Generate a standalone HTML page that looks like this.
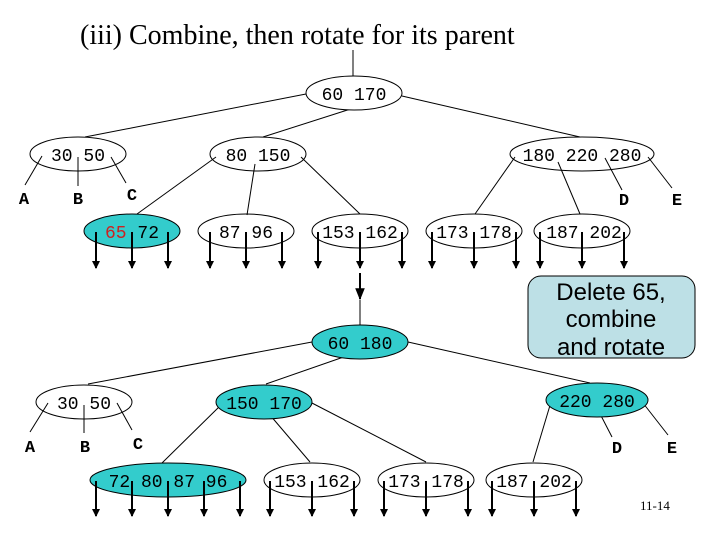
<!DOCTYPE html>
<html><head><meta charset="utf-8"><style>
body{margin:0;background:#fff}
svg{display:block}
.n{font-family:"Liberation Mono",monospace;font-size:18px;fill:#000}
.l{font-family:"Liberation Mono",monospace;font-size:17px;font-weight:bold;fill:#000}
</style></head><body>
<svg width="720" height="540" viewBox="0 0 720 540" xmlns="http://www.w3.org/2000/svg">
<defs><marker id="ah" viewBox="0 0 8 8" refX="7" refY="4" markerWidth="8" markerHeight="8" orient="auto" markerUnits="userSpaceOnUse"><path d="M0,0 L8,4 L0,8 z" fill="#000"/></marker>
<marker id="ad" viewBox="0 0 10 8" refX="9" refY="4" markerWidth="12" markerHeight="10" markerUnits="userSpaceOnUse" orient="auto"><path d="M0,0 L10,4 L0,8 z" fill="#000"/></marker></defs>
<text x="80" y="44" font-family="Liberation Serif,serif" font-size="28">(iii) Combine, then rotate for its parent</text>
<g stroke="#000" stroke-width="1" fill="none">
<line x1="353" y1="50" x2="353" y2="76"/>
<line x1="306" y1="94" x2="85" y2="137"/>
<line x1="360" y1="106" x2="263" y2="137"/>
<line x1="402" y1="96" x2="580" y2="137"/>
<line x1="42" y1="156" x2="25" y2="185"/><line x1="78" y1="157" x2="78" y2="186"/><line x1="111" y1="157" x2="126" y2="183"/>
<line x1="216" y1="157" x2="137" y2="214"/><line x1="255" y1="164" x2="247" y2="215"/><line x1="301" y1="157" x2="360" y2="214"/>
<line x1="515" y1="157" x2="475" y2="214"/><line x1="558" y1="162" x2="580" y2="214"/><line x1="605" y1="158" x2="622" y2="190"/><line x1="648" y1="157" x2="672" y2="188"/>
<line x1="360" y1="300" x2="360" y2="325"/>
<line x1="312" y1="342" x2="88" y2="384"/><line x1="358" y1="352" x2="266" y2="384"/><line x1="408" y1="342" x2="590" y2="383"/>
<line x1="48" y1="403" x2="30" y2="432"/><line x1="84" y1="405" x2="84" y2="433"/><line x1="117" y1="403" x2="132" y2="430"/>
<line x1="222" y1="404" x2="162" y2="463"/><line x1="264" y1="408" x2="310" y2="462"/><line x1="310" y1="402" x2="426" y2="462"/>
<line x1="551" y1="402" x2="533" y2="462"/><line x1="596" y1="406" x2="612" y2="437"/><line x1="643" y1="403" x2="668" y2="435"/>
</g>
<g stroke="#000" stroke-width="1">
<ellipse cx="354" cy="93" rx="48" ry="17" fill="#fff"/>
<ellipse cx="78" cy="154" rx="48" ry="17" fill="none"/>
<ellipse cx="258" cy="154" rx="48" ry="17" fill="none"/>
<ellipse cx="582" cy="154" rx="72" ry="17" fill="none"/>
<ellipse cx="132" cy="231" rx="48" ry="17" fill="#33cccc"/>
<ellipse cx="246" cy="231" rx="48" ry="17" fill="none"/>
<ellipse cx="360" cy="231" rx="48" ry="17" fill="none"/>
<ellipse cx="474" cy="231" rx="48" ry="17" fill="none"/>
<ellipse cx="582" cy="231" rx="48" ry="17" fill="none"/>
<ellipse cx="360" cy="342" rx="48" ry="17" fill="#33cccc"/>
<ellipse cx="84" cy="402" rx="48" ry="17" fill="none"/>
<ellipse cx="264" cy="402" rx="48" ry="17" fill="#33cccc"/>
<ellipse cx="597" cy="400" rx="51" ry="17" fill="#33cccc"/>
<ellipse cx="168" cy="480" rx="78" ry="17" fill="#33cccc"/>
<ellipse cx="312" cy="480" rx="48" ry="17" fill="none"/>
<ellipse cx="426" cy="480" rx="48" ry="17" fill="none"/>
<ellipse cx="534" cy="480" rx="48" ry="17" fill="none"/>
</g>
<g stroke="#000" stroke-width="2">
<line x1="96" y1="232" x2="96" y2="268" marker-end="url(#ah)"/><line x1="132" y1="232" x2="132" y2="268" marker-end="url(#ah)"/><line x1="168" y1="232" x2="168" y2="268" marker-end="url(#ah)"/>
<line x1="210" y1="232" x2="210" y2="268" marker-end="url(#ah)"/><line x1="246" y1="232" x2="246" y2="268" marker-end="url(#ah)"/><line x1="282" y1="232" x2="282" y2="268" marker-end="url(#ah)"/>
<line x1="318" y1="232" x2="318" y2="268" marker-end="url(#ah)"/><line x1="360" y1="232" x2="360" y2="268" marker-end="url(#ah)"/><line x1="402" y1="232" x2="402" y2="268" marker-end="url(#ah)"/>
<line x1="432" y1="232" x2="432" y2="268" marker-end="url(#ah)"/><line x1="474" y1="232" x2="474" y2="268" marker-end="url(#ah)"/><line x1="516" y1="232" x2="516" y2="268" marker-end="url(#ah)"/>
<line x1="540" y1="232" x2="540" y2="268" marker-end="url(#ah)"/><line x1="582" y1="232" x2="582" y2="268" marker-end="url(#ah)"/><line x1="624" y1="232" x2="624" y2="268" marker-end="url(#ah)"/>
<line x1="360" y1="273" x2="360" y2="299" marker-end="url(#ad)"/>
<line x1="96" y1="481" x2="96" y2="516" marker-end="url(#ah)"/><line x1="132" y1="481" x2="132" y2="516" marker-end="url(#ah)"/><line x1="168" y1="481" x2="168" y2="516" marker-end="url(#ah)"/><line x1="204" y1="481" x2="204" y2="516" marker-end="url(#ah)"/><line x1="240" y1="481" x2="240" y2="516" marker-end="url(#ah)"/>
<line x1="270" y1="481" x2="270" y2="516" marker-end="url(#ah)"/><line x1="312" y1="481" x2="312" y2="516" marker-end="url(#ah)"/><line x1="354" y1="481" x2="354" y2="516" marker-end="url(#ah)"/>
<line x1="384" y1="481" x2="384" y2="516" marker-end="url(#ah)"/><line x1="426" y1="481" x2="426" y2="516" marker-end="url(#ah)"/><line x1="468" y1="481" x2="468" y2="516" marker-end="url(#ah)"/>
<line x1="492" y1="481" x2="492" y2="516" marker-end="url(#ah)"/><line x1="534" y1="481" x2="534" y2="516" marker-end="url(#ah)"/><line x1="576" y1="481" x2="576" y2="516" marker-end="url(#ah)"/>
</g>
<g class="n" text-anchor="middle">
<text x="354" y="100">60 170</text>
<text x="78" y="161">30 50</text>
<text x="258" y="161">80 150</text>
<text x="582" y="161">180 220 280</text>
<text x="132" y="238"><tspan fill="#cc2222">65</tspan> 72</text>
<text x="246" y="238">87 96</text>
<text x="360" y="238">153 162</text>
<text x="474" y="238">173 178</text>
<text x="584" y="238">187 202</text>
<text x="360" y="349">60 180</text>
<text x="84" y="409">30 50</text>
<text x="264" y="409">150 170</text>
<text x="597" y="407">220 280</text>
<text x="168" y="487">72 80 87 96</text>
<text x="312" y="487">153 162</text>
<text x="426" y="487">173 178</text>
<text x="534" y="487">187 202</text>
</g>
<g class="l" text-anchor="middle">
<text x="24" y="204">A</text><text x="78" y="204">B</text><text x="132" y="200">C</text><text x="624" y="205">D</text><text x="677" y="205">E</text>
<text x="30" y="452">A</text><text x="85" y="452">B</text><text x="138" y="449">C</text><text x="617" y="453">D</text><text x="672" y="453">E</text>
</g>
<rect x="528" y="276" width="167" height="82" rx="13" fill="#bde0e6" stroke="#000" stroke-width="1"/>
<g font-family="Liberation Sans,sans-serif" font-size="24" text-anchor="middle">
<text x="611" y="300">Delete 65,</text><text x="611" y="327">combine</text><text x="611" y="355">and rotate</text>
</g>
<text x="640" y="510" font-family="Liberation Serif,serif" font-size="13">11-14</text>
</svg>
</body></html>
